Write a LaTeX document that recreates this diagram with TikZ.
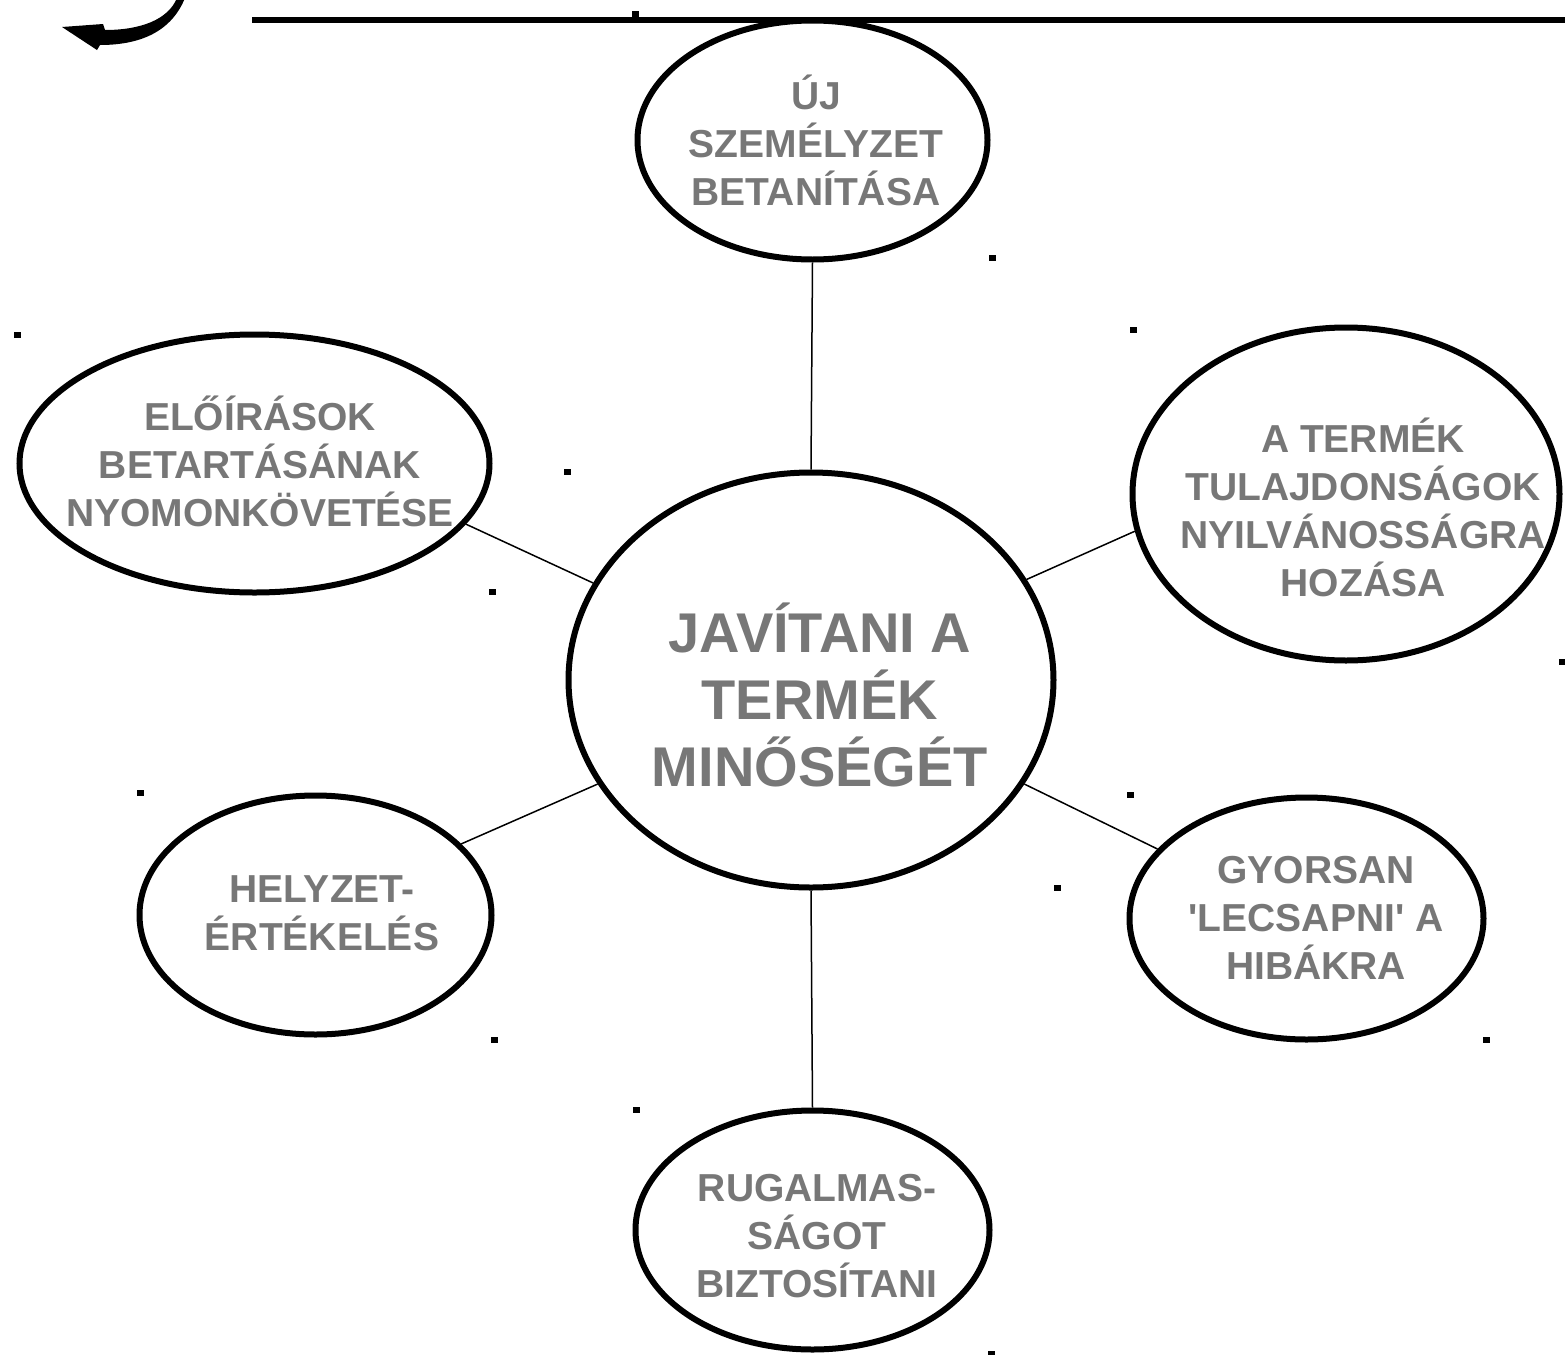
\documentclass[tikz,border=0pt]{standalone}
\usepackage{fontspec}
\setmainfont{Liberation Sans}
\usetikzlibrary{shapes.geometric}
\definecolor{labelgray}{HTML}{777777}
\tikzset{
  bubble/.style={ellipse, draw=black, line width=3pt, fill=white, inner sep=0pt},
  smalltext/.style={text=labelgray, font=\bfseries\fontsize{19.5}{24}\selectfont, align=center, inner sep=0pt},
  bigtext/.style={text=labelgray, font=\bfseries\fontsize{28}{33.5}\selectfont, align=center, inner sep=0pt},
  spoke/.style={draw=black, line width=0.75pt},
  speck/.style={fill=black},
}
\begin{document}
\begin{tikzpicture}[x=0.5pt, y=-0.5pt]
\useasboundingbox (0,0) rectangle (1565,1355);

% rule along the top edge
\draw[line width=3pt] (252,20) -- (1565,20);

% curved arrow in the corner
\fill (185,-2) .. controls (170,35) and (135,45) .. (100,45)
      -- (97,50) -- (62,27) -- (103,24) -- (105,30)
      .. controls (140,30) and (168,20) .. (177,-2) -- cycle;

% bubbles
\node[bubble, minimum width=242.5pt, minimum height=207.5pt] (c) at (811,680) {};
\node[bubble, minimum width=175pt, minimum height=119.5pt] (t) at (812.5,140) {};
\node[bubble, minimum width=235pt, minimum height=129pt] (lu) at (254.5,463.5) {};
\node[bubble, minimum width=213.5pt, minimum height=166.5pt] (ru) at (1346,494) {};
\node[bubble, minimum width=176pt, minimum height=119.5pt] (ll) at (315.5,915) {};
\node[bubble, minimum width=177pt, minimum height=121pt] (rl) at (1306.5,918.5) {};
\node[bubble, minimum width=177pt, minimum height=119.5pt] (b) at (812.5,1230) {};

% spokes
\draw[spoke] (t.south) -- (c.north);
\draw[spoke] (b.north) -- (c.south);
\draw[spoke] (lu.-16) -- (c.156);
\draw[spoke] (ru.-170) -- (c.25);
\draw[spoke] (ll.26) -- (c.206);
\draw[spoke] (rl.155) -- (c.-26);

% labels
\node[bigtext] (ct) at (820,695) {JAVÍTANI A\\TERMÉK\\MINŐSÉGÉT};
\node[smalltext] (tt) at (816,140) {ÚJ\\SZEMÉLYZET\\BETANÍTÁSA};
\node[smalltext] (lut) at (260,461) {ELŐÍRÁSOK\\BETARTÁSÁNAK\\NYOMONKÖVETÉSE};
\node[smalltext] (rut) at (1363,507) {A TERMÉK\\TULAJDONSÁGOK\\NYILVÁNOSSÁGRA\\HOZÁSA};
\node[smalltext] (llt) at (322,913) {HELYZET-\\ÉRTÉKELÉS};
\node[smalltext] (rlt) at (1316,918) {GYORSAN\\\textquotesingle LECSAPNI\textquotesingle{} A\\HIBÁKRA};
\node[smalltext] (bt) at (817,1236) {RUGALMAS-\\SÁGOT\\BIZTOSÍTANI};

% stray specks
\foreach \px/\py in {635/14, 992/258, 17/335, 1133/330, 567/472, 492/592,
                     1562/662, 140/793, 1130/795, 1057/888, 494/1040,
                     1486/1040, 636/1110}
  \fill[speck] (\px-3.5,\py-3) rectangle (\px+3.5,\py+3);
\fill[speck] (988,1351) rectangle (995,1356);
\end{tikzpicture}
\end{document}
